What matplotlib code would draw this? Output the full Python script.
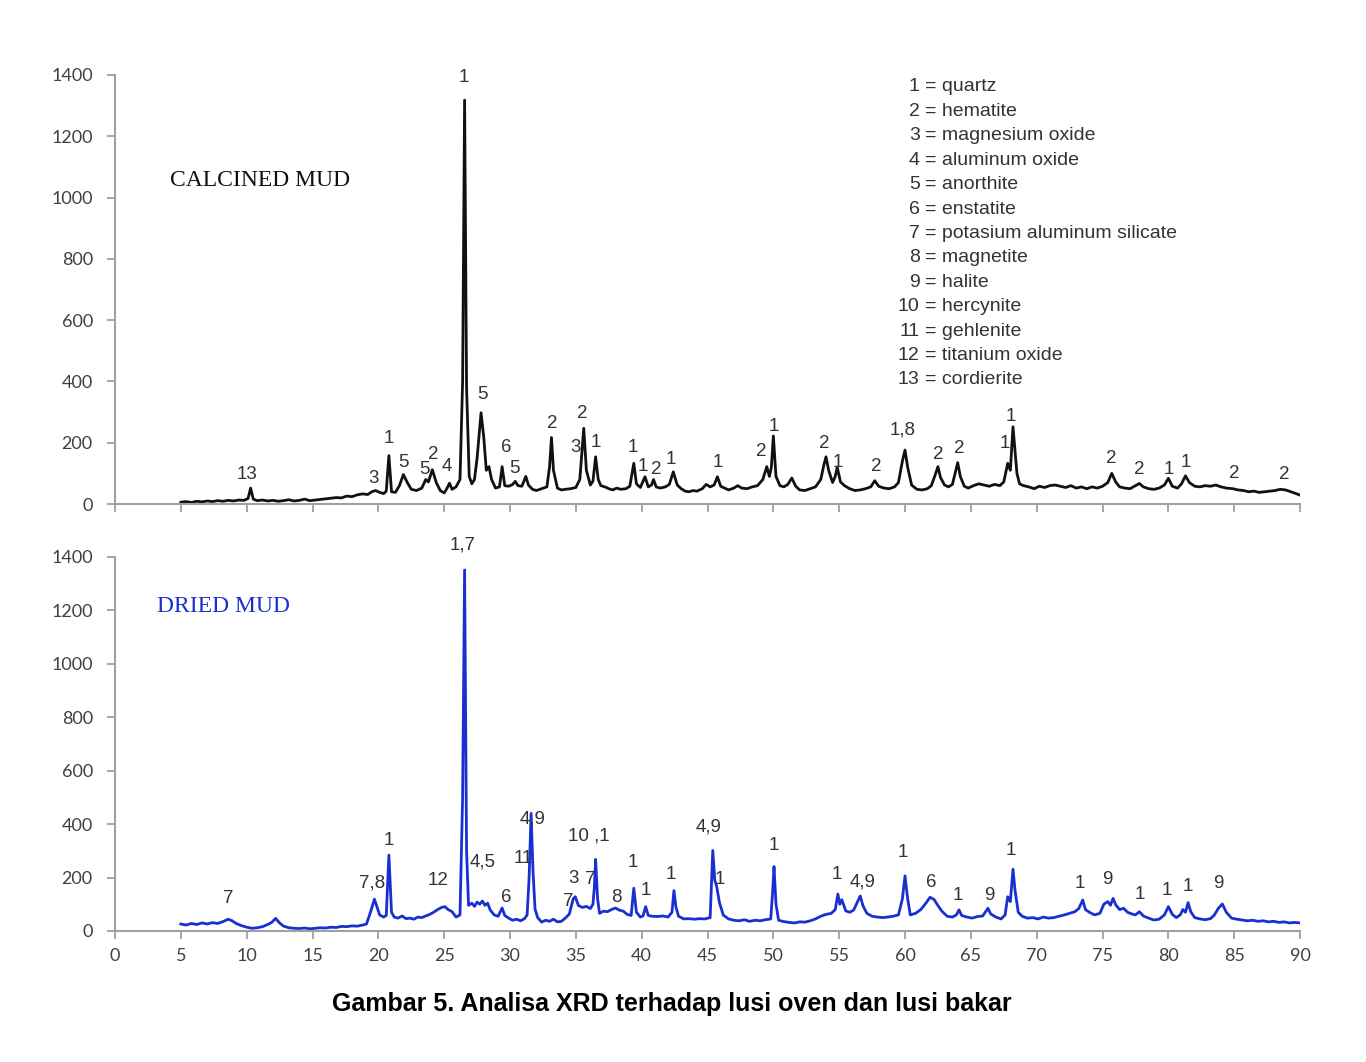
import matplotlib.pyplot as plt

# XRD patterns (2-theta, counts)
calcined = [
    (5.0, 6), (5.4, 8), (5.8, 5), (6.2, 9), (6.6, 7), (7.0, 10), (7.4, 8), (7.8, 11),
    (8.2, 9), (8.6, 12), (9.0, 10), (9.4, 13), (9.8, 12), (10.1, 18), (10.3, 52), (10.5, 16),
    (10.8, 11), (11.2, 13), (11.6, 10), (12.0, 12), (12.4, 9), (12.8, 11), (13.2, 14), (13.6, 10),
    (14.0, 12), (14.4, 16), (14.8, 11), (15.2, 13), (15.6, 15), (16.0, 17), (16.4, 19), (16.8, 21),
    (17.2, 20), (17.6, 26), (18.0, 24), (18.4, 30), (18.8, 33), (19.2, 31), (19.5, 40), (19.8, 44),
    (20.1, 38), (20.4, 34), (20.6, 42), (20.8, 158), (21.0, 40), (21.3, 38), (21.6, 60), (21.9, 96),
    (22.2, 70), (22.5, 48), (22.9, 44), (23.3, 52), (23.6, 80), (23.8, 72), (24.1, 112), (24.4, 70),
    (24.7, 44), (25.0, 36), (25.2, 50), (25.4, 68), (25.6, 48), (25.9, 56), (26.2, 80), (26.4, 400),
    (26.55, 1318), (26.7, 380), (26.9, 90), (27.1, 66), (27.3, 80), (27.5, 150), (27.8, 298), (28.0, 220),
    (28.2, 110), (28.4, 122), (28.6, 80), (28.9, 52), (29.2, 56), (29.4, 122), (29.6, 60), (29.9, 58),
    (30.2, 64), (30.4, 74), (30.6, 60), (30.9, 58), (31.2, 90), (31.4, 62), (31.7, 48), (32.0, 44),
    (32.4, 50), (32.8, 56), (33.0, 120), (33.15, 217), (33.3, 110), (33.6, 52), (33.9, 46), (34.2, 48),
    (34.6, 50), (35.0, 54), (35.3, 80), (35.6, 247), (35.8, 110), (36.1, 62), (36.3, 75), (36.5, 154),
    (36.7, 80), (36.9, 60), (37.2, 56), (37.5, 50), (37.8, 46), (38.1, 52), (38.4, 48), (38.8, 50),
    (39.1, 58), (39.4, 133), (39.6, 66), (39.9, 54), (40.25, 89), (40.5, 56), (40.75, 62), (40.9, 80),
    (41.1, 56), (41.4, 52), (41.8, 56), (42.1, 64), (42.4, 105), (42.7, 62), (43.0, 50), (43.3, 42),
    (43.6, 40), (43.9, 44), (44.2, 42), (44.6, 50), (44.9, 64), (45.2, 56), (45.5, 62), (45.75, 89),
    (46.0, 58), (46.3, 52), (46.6, 46), (47.0, 52), (47.3, 60), (47.6, 52), (48.0, 50), (48.4, 56),
    (48.8, 60), (49.2, 80), (49.5, 122), (49.7, 90), (49.85, 120), (50.0, 222), (50.2, 90), (50.5, 60),
    (50.8, 56), (51.1, 64), (51.4, 85), (51.7, 58), (52.0, 46), (52.4, 44), (52.8, 50), (53.2, 56),
    (53.6, 80), (53.85, 130), (54.0, 154), (54.2, 110), (54.5, 70), (54.7, 90), (54.85, 120), (55.1, 72),
    (55.4, 60), (55.8, 50), (56.2, 44), (56.6, 46), (57.0, 50), (57.4, 56), (57.7, 76), (58.0, 58),
    (58.4, 52), (58.8, 50), (59.2, 56), (59.5, 70), (59.8, 140), (60.0, 176), (60.2, 120), (60.5, 62),
    (60.9, 48), (61.3, 46), (61.7, 50), (62.0, 60), (62.3, 96), (62.5, 122), (62.7, 86), (63.0, 62),
    (63.3, 56), (63.6, 64), (63.8, 100), (64.0, 135), (64.2, 90), (64.5, 58), (64.8, 52), (65.2, 60),
    (65.6, 66), (66.0, 62), (66.4, 58), (66.8, 64), (67.2, 60), (67.5, 72), (67.8, 133), (68.0, 110),
    (68.2, 252), (68.35, 176), (68.5, 100), (68.7, 66), (69.0, 60), (69.4, 56), (69.8, 50), (70.2, 58),
    (70.6, 54), (71.0, 60), (71.4, 62), (71.8, 58), (72.2, 54), (72.6, 60), (73.0, 52), (73.4, 56),
    (73.8, 50), (74.2, 56), (74.6, 52), (75.0, 58), (75.4, 70), (75.7, 100), (76.0, 72), (76.3, 56),
    (76.7, 52), (77.1, 50), (77.5, 60), (77.8, 67), (78.1, 56), (78.5, 50), (78.9, 48), (79.3, 52),
    (79.7, 62), (80.0, 84), (80.3, 58), (80.7, 52), (81.0, 66), (81.3, 92), (81.6, 70), (82.0, 58),
    (82.4, 56), (82.8, 60), (83.2, 58), (83.6, 62), (84.0, 56), (84.4, 52), (84.9, 50), (85.3, 46),
    (85.7, 44), (86.1, 40), (86.5, 42), (86.9, 38), (87.3, 40), (87.7, 42), (88.1, 44), (88.5, 48),
    (88.9, 46), (89.3, 40), (89.7, 34), (90.0, 29),
]

dried = [
    (5.0, 26), (5.4, 22), (5.8, 28), (6.2, 24), (6.6, 30), (7.0, 26), (7.4, 31), (7.8, 28),
    (8.2, 35), (8.6, 44), (8.9, 38), (9.2, 28), (9.6, 20), (10.0, 14), (10.4, 10), (10.8, 12),
    (11.2, 16), (11.6, 24), (11.9, 32), (12.2, 47), (12.5, 30), (12.8, 18), (13.2, 12), (13.6, 10),
    (14.0, 9), (14.4, 11), (14.8, 8), (15.2, 10), (15.6, 12), (16.0, 11), (16.4, 14), (16.8, 13),
    (17.2, 17), (17.6, 16), (18.0, 19), (18.4, 18), (18.8, 22), (19.1, 26), (19.4, 70), (19.7, 119),
    (19.9, 90), (20.1, 60), (20.4, 52), (20.6, 58), (20.8, 284), (21.0, 70), (21.2, 52), (21.5, 48),
    (21.8, 56), (22.1, 46), (22.4, 48), (22.7, 44), (23.0, 52), (23.3, 50), (23.6, 56), (23.9, 62),
    (24.2, 70), (24.5, 80), (24.8, 88), (25.05, 91), (25.3, 80), (25.6, 72), (25.9, 52), (26.2, 60),
    (26.4, 500), (26.55, 1351), (26.7, 300), (26.85, 96), (27.1, 104), (27.3, 92), (27.5, 108), (27.7, 100),
    (27.9, 112), (28.1, 96), (28.3, 104), (28.5, 78), (28.8, 60), (29.1, 55), (29.4, 86), (29.6, 58),
    (29.9, 48), (30.2, 40), (30.5, 44), (30.8, 38), (31.1, 46), (31.3, 60), (31.45, 200), (31.6, 440),
    (31.75, 220), (31.9, 82), (32.1, 50), (32.4, 33), (32.7, 40), (33.0, 36), (33.3, 44), (33.6, 34),
    (33.9, 36), (34.2, 48), (34.5, 63), (34.8, 120), (34.95, 128), (35.2, 95), (35.5, 88), (35.8, 92),
    (36.1, 84), (36.3, 100), (36.4, 160), (36.5, 268), (36.65, 120), (36.8, 66), (37.1, 74), (37.4, 72),
    (37.7, 80), (38.0, 86), (38.3, 78), (38.6, 74), (38.9, 62), (39.2, 58), (39.4, 160), (39.6, 70),
    (39.9, 52), (40.1, 56), (40.3, 91), (40.5, 58), (40.8, 55), (41.2, 54), (41.6, 56), (42.0, 52),
    (42.3, 70), (42.45, 151), (42.6, 90), (42.8, 55), (43.2, 45), (43.6, 46), (44.0, 44), (44.4, 46),
    (44.8, 45), (45.2, 50), (45.4, 301), (45.55, 190), (45.7, 166), (45.9, 107), (46.2, 59), (46.6, 45),
    (47.0, 40), (47.4, 38), (47.8, 42), (48.2, 36), (48.6, 40), (49.0, 38), (49.4, 42), (49.8, 45),
    (49.95, 150), (50.05, 241), (50.2, 100), (50.4, 40), (50.8, 35), (51.2, 32), (51.6, 30), (52.0, 34),
    (52.4, 33), (52.8, 38), (53.2, 45), (53.6, 55), (54.0, 62), (54.4, 66), (54.7, 80), (54.9, 138),
    (55.05, 100), (55.2, 117), (55.5, 75), (55.8, 70), (56.1, 78), (56.4, 110), (56.6, 131), (56.8, 95),
    (57.1, 66), (57.5, 55), (57.9, 52), (58.3, 50), (58.7, 52), (59.1, 55), (59.5, 60), (59.8, 120),
    (60.0, 206), (60.2, 120), (60.4, 60), (60.8, 66), (61.2, 80), (61.6, 105), (61.9, 126), (62.2, 118),
    (62.5, 95), (62.8, 74), (63.2, 55), (63.6, 52), (63.9, 60), (64.1, 79), (64.3, 58), (64.7, 52),
    (65.1, 48), (65.5, 54), (65.9, 56), (66.3, 85), (66.5, 64), (66.9, 52), (67.3, 45), (67.6, 60),
    (67.8, 128), (68.0, 110), (68.2, 231), (68.35, 154), (68.6, 70), (68.9, 55), (69.3, 48), (69.7, 50),
    (70.1, 45), (70.5, 52), (70.9, 48), (71.3, 50), (71.7, 55), (72.1, 60), (72.5, 66), (72.9, 72),
    (73.2, 84), (73.5, 116), (73.7, 80), (74.0, 70), (74.4, 60), (74.8, 66), (75.1, 100), (75.4, 110),
    (75.6, 96), (75.8, 122), (76.0, 98), (76.3, 80), (76.6, 85), (76.9, 70), (77.2, 64), (77.5, 60),
    (77.8, 72), (78.1, 56), (78.5, 48), (78.9, 41), (79.3, 44), (79.7, 60), (80.0, 91), (80.3, 62),
    (80.6, 50), (80.9, 60), (81.1, 80), (81.3, 70), (81.5, 106), (81.7, 72), (82.0, 50), (82.4, 45),
    (82.8, 42), (83.2, 46), (83.5, 60), (83.8, 85), (84.1, 101), (84.4, 70), (84.8, 48), (85.2, 44),
    (85.6, 41), (86.0, 38), (86.4, 40), (86.8, 36), (87.2, 38), (87.6, 34), (88.0, 36), (88.4, 32),
    (88.8, 34), (89.2, 30), (89.6, 32), (90.0, 30),
]

# peak labels: (text, 2-theta, height)
calcined_labels = [
    ("13", 10.0, 95), ("3", 19.6, 82), ("1", 20.8, 215), ("5", 21.9, 137), ("5", 23.5, 114),
    ("2", 24.15, 160), ("4", 25.2, 121), ("1", 26.5, 1392), ("5", 27.9, 356), ("6", 29.7, 183),
    ("5", 30.3, 117), ("2", 33.2, 264), ("3", 35.0, 183), ("2", 35.5, 294), ("1", 36.5, 202),
    ("1", 39.3, 186), ("1", 40.1, 121), ("2", 41.1, 114), ("1", 42.2, 144), ("1", 45.8, 137),
    ("2", 49.1, 170), ("1", 50.0, 254), ("2", 53.9, 196), ("1", 54.9, 137), ("2", 57.8, 121),
    ("1,8", 59.8, 241), ("2", 62.5, 160), ("2", 64.1, 180), ("1", 67.6, 199), ("1", 68.0, 287),
    ("2", 75.7, 150), ("2", 77.8, 114), ("1", 80.0, 114), ("1", 81.3, 134), ("2", 85.0, 101),
    ("2", 88.8, 95),
]

dried_labels = [
    ("7", 8.6, 120), ("7,8", 19.5, 180), ("1", 20.8, 337), ("12", 24.5, 187), ("1,7", 26.4, 1445),
    ("4,5", 27.9, 258), ("6", 29.7, 127), ("11", 31.0, 273), ("4,9", 31.7, 419), ("7", 34.4, 112),
    ("3", 34.8, 195), ("7", 36.1, 191), ("10 ,1", 36.0, 356), ("8", 38.1, 124), ("1", 39.3, 255),
    ("1", 40.3, 153), ("1", 42.2, 213), ("4,9", 45.1, 389), ("1", 45.9, 191), ("1", 50.0, 318),
    ("1", 54.8, 213), ("4,9", 56.8, 183), ("1", 59.8, 292), ("6", 62.0, 180), ("1", 64.0, 131),
    ("9", 66.4, 131), ("1", 68.0, 300), ("1", 73.3, 176), ("9", 75.4, 191), ("1", 77.8, 135),
    ("1", 79.9, 150), ("1", 81.5, 165), ("9", 83.8, 176),
]

phases = [
    "quartz", "hematite", "magnesium oxide", "aluminum oxide", "anorthite", "enstatite",
    "potasium aluminum silicate", "magnetite", "halite", "hercynite", "gehlenite",
    "titanium oxide", "cordierite",
]

x_ticks = list(range(0, 95, 5))
y_ticks = list(range(0, 1600, 200))

grey = "#a0a0a0"
txt = "#333333"

fig = plt.figure(figsize=(13.66, 10.62), dpi=100)
ax1 = fig.add_axes([0.0842, 0.5254, 0.8675, 0.404])
ax2 = fig.add_axes([0.0842, 0.1234, 0.8675, 0.3522])


def style(ax, xlabels):
    ax.set_xlim(0, 90)
    ax.set_ylim(0, 1400)
    ax.set_xticks(x_ticks)
    ax.set_yticks(y_ticks)
    for s in ["top", "right"]:
        ax.spines[s].set_visible(False)
    for s in ["left", "bottom"]:
        ax.spines[s].set_color(grey)
        ax.spines[s].set_linewidth(1.5)
    ax.tick_params(axis="both", direction="out", length=6, width=1.3, color=grey)
    ax.tick_params(axis="y", pad=10, labelsize=13, labelcolor="#404040")
    ax.tick_params(axis="x", pad=6, labelsize=13, labelcolor="#404040",
                   labelbottom=xlabels)
    for lab in ax.get_yticklabels() + ax.get_xticklabels():
        lab.set_fontfamily("Lato")


style(ax1, False)
style(ax2, True)

cx, cy = zip(*calcined)
ax1.plot(cx, cy, color="#111111", lw=2.0)
dx, dy = zip(*dried)
ax2.plot(dx, dy, color="#1a2fd0", lw=2.0)

for t, x, y in calcined_labels:
    ax1.text(x, y, t, ha="center", va="center", fontsize=13.5, color=txt,
             family="Liberation Sans", clip_on=False)
for t, x, y in dried_labels:
    ax2.text(x, y, t, ha="center", va="center", fontsize=13.5, color=txt,
             family="Liberation Sans", clip_on=False)

ax1.text(4.2, 1057, "CALCINED MUD", ha="left", va="center", fontsize=17,
         family="Liberation Serif", color="#111111")
ax2.text(3.2, 1213, "DRIED MUD", ha="left", va="center", fontsize=17,
         family="Liberation Serif", color="#1a2fd0")

# phase key
for i, name in enumerate(phases):
    yy = 0.9720 - i * 0.0569
    ax1.text(0.679, yy, str(i + 1), transform=ax1.transAxes, ha="right", va="center",
             fontsize=14, color=txt, family="Liberation Sans")
    ax1.text(0.6835, yy, "= " + name, transform=ax1.transAxes, ha="left", va="center",
             fontsize=14, color=txt, family="Liberation Sans")

fig.text(0.4915, 0.0546, "Gambar 5. Analisa XRD terhadap lusi oven dan lusi bakar",
         ha="center", va="center", fontsize=18, fontweight="bold",
         family="Liberation Sans", color="black")

plt.savefig("out.png", dpi=100)
